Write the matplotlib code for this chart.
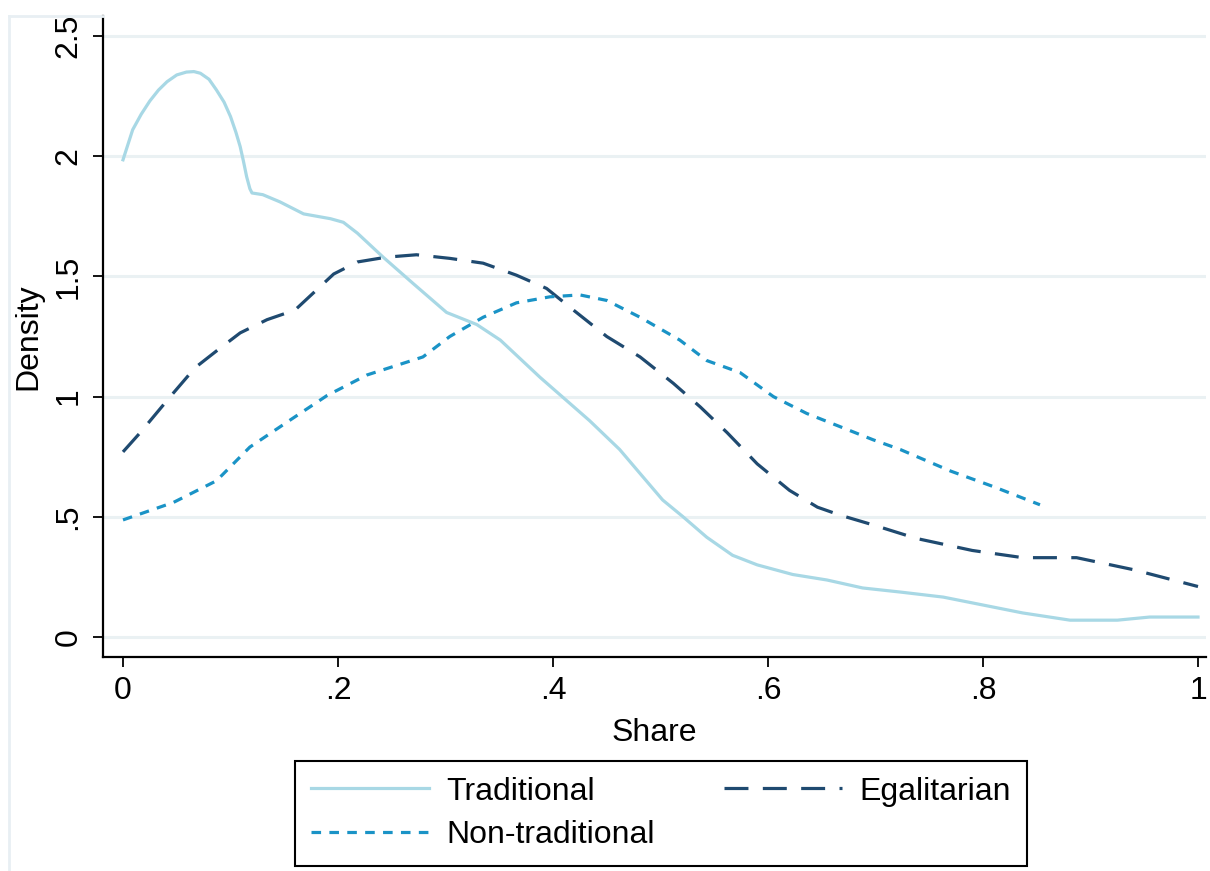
import matplotlib
matplotlib.use("Agg")
import matplotlib.pyplot as plt
from matplotlib.lines import Line2D

# ---- data ----
trad_x = [0.0, 0.009, 0.017, 0.025, 0.033, 0.041, 0.050, 0.059, 0.066, 0.072, 0.080,
          0.087, 0.094, 0.100, 0.105, 0.109, 0.112, 0.115, 0.118, 0.120,
          0.130, 0.146, 0.168, 0.193, 0.205, 0.218, 0.242, 0.270, 0.301, 0.329, 0.351, 0.388,
          0.434, 0.462, 0.481, 0.502, 0.521, 0.543, 0.567, 0.590, 0.623, 0.655,
          0.688, 0.723, 0.763, 0.800, 0.837, 0.881, 0.925, 0.955, 1.0]
trad_y = [1.985, 2.11, 2.175, 2.23, 2.275, 2.31, 2.338, 2.35, 2.352, 2.345, 2.32,
          2.275, 2.225, 2.165, 2.10, 2.04, 1.98, 1.915, 1.865, 1.847,
          1.84, 1.81, 1.76, 1.74, 1.725, 1.68, 1.58, 1.47, 1.35, 1.30, 1.235, 1.08,
          0.90, 0.78, 0.68, 0.57, 0.50, 0.415, 0.34, 0.30, 0.26, 0.237,
          0.204, 0.187, 0.166, 0.133, 0.10, 0.07, 0.07, 0.083, 0.083]

egal_x = [0.0, 0.016, 0.044, 0.067, 0.087, 0.109, 0.134, 0.160, 0.196, 0.218,
          0.245, 0.273, 0.304, 0.335, 0.366, 0.394, 0.419, 0.450, 0.481, 0.512,
          0.537, 0.562, 0.590, 0.620, 0.646, 0.667, 0.698, 0.738, 0.790, 0.837,
          0.887, 0.940, 1.0]
egal_y = [0.77, 0.85, 1.00, 1.12, 1.19, 1.265, 1.32, 1.36, 1.51, 1.56,
          1.58, 1.59, 1.575, 1.555, 1.505, 1.45, 1.36, 1.25, 1.165, 1.055,
          0.957, 0.85, 0.72, 0.61, 0.54, 0.507, 0.466, 0.41, 0.36, 0.33,
          0.33, 0.28, 0.21]

nont_x = [0.0, 0.047, 0.087, 0.118, 0.158, 0.190, 0.227, 0.279, 0.304, 0.335,
          0.366, 0.397, 0.425, 0.450, 0.481, 0.518, 0.543, 0.574, 0.605, 0.636,
          0.667, 0.698, 0.723, 0.770, 0.810, 0.853]
nont_y = [0.487, 0.56, 0.65, 0.79, 0.91, 1.005, 1.09, 1.165, 1.25, 1.33,
          1.39, 1.415, 1.423, 1.40, 1.33, 1.235, 1.15, 1.10, 1.00, 0.93,
          0.875, 0.82, 0.78, 0.69, 0.625, 0.55]

x_ticks = [0, 0.2, 0.4, 0.6, 0.8, 1.0]
x_tick_labels = ["0", ".2", ".4", ".6", ".8", "1"]
y_ticks = [0, 0.5, 1.0, 1.5, 2.0, 2.5]
y_tick_labels = ["0", ".5", "1", "1.5", "2", "2.5"]
series_labels = ["Traditional", "Egalitarian", "Non-traditional"]

# ---- styling ----
plt.rcParams['font.family'] = ['Liberation Sans', 'DejaVu Sans']
FS = 23

c_trad = "#a8d8e5"
c_egal = "#1f4a70"
c_nont = "#1a93c6"

W, H = 1210, 871
fig = plt.figure(figsize=(W / 100, H / 100), dpi=100)
ax = fig.add_axes([103 / W, 1 - 657 / H, (1206 - 103) / W, (657 - 16) / H])

l1, = ax.plot(trad_x, trad_y, color=c_trad, lw=2.3, solid_joinstyle='round',
              label=series_labels[0])
l2, = ax.plot(egal_x, egal_y, color=c_egal, lw=2.3, dashes=(7.5, 4.5),
              label=series_labels[1])
l3, = ax.plot(nont_x, nont_y, color=c_nont, lw=2.3, dashes=(3.0, 2.6),
              label=series_labels[2])

ax.set_xlim((103 - 123) / 1075, (1206 - 123) / 1075)
ax.set_ylim((637 - 657) / 240.4, (637 - 16) / 240.4)

ax.set_xticks(x_ticks)
ax.set_xticklabels(x_tick_labels, fontsize=FS)
ax.set_yticks(y_ticks)
ax.set_yticklabels(y_tick_labels, fontsize=FS, rotation=90, va='center')
ax.tick_params(axis='both', direction='out', length=7, width=1.3, colors='black')
ax.tick_params(axis='x', pad=7)
ax.tick_params(axis='y', pad=7)

ax.grid(axis='y', color='#eaf1f3', lw=2.2)
ax.set_axisbelow(True)
for s in ['top', 'right']:
    ax.spines[s].set_visible(False)
for s in ['left', 'bottom']:
    ax.spines[s].set_linewidth(1.6)
    ax.spines[s].set_color('black')

ax.set_xlabel("Share", fontsize=FS, labelpad=8)
ax.set_ylabel("Density", fontsize=FS, labelpad=7)

# faint outer region outline
fig.add_artist(Line2D([9 / W, 9 / W], [1 - 16 / H, 0], transform=fig.transFigure,
                      color='#e8eff3', lw=2))
fig.add_artist(Line2D([9 / W, 103 / W], [1 - 16 / H, 1 - 16 / H], transform=fig.transFigure,
                      color='#e8eff3', lw=2))

leg = fig.legend([l1, l3, l2], [series_labels[0], series_labels[2], series_labels[1]],
                 ncol=2, loc='lower left',
                 bbox_to_anchor=(295 / W, 1 - 866 / H, (1027 - 295) / W, (866 - 763) / H),
                 mode='expand', borderaxespad=0, fontsize=FS, handlelength=3.7,
                 handletextpad=0.55, labelspacing=0.42, borderpad=0.5, fancybox=False,
                 edgecolor='black', framealpha=1, columnspacing=1.5)
leg.get_frame().set_linewidth(1.5)

fig.savefig("out.png", dpi=100)
